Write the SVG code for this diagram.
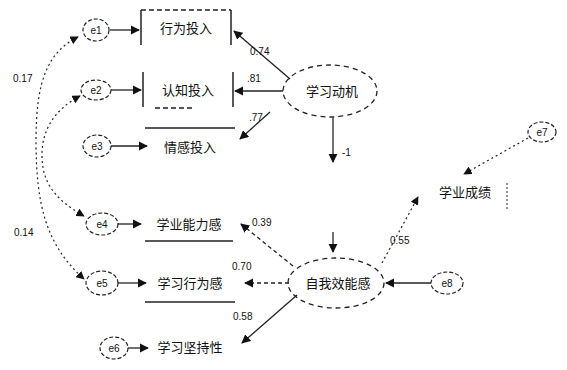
<svg xmlns="http://www.w3.org/2000/svg" width="567" height="370" viewBox="0 0 567 370">
<defs>
<marker id="ah" viewBox="0 0 10 10" refX="9" refY="5" markerWidth="7" markerHeight="7" orient="auto-start-reverse"><path d="M0,0 L10,5 L0,10 z" fill="#111"/></marker>
<style>
.t{font-family:"Liberation Sans","Noto Sans CJK SC",sans-serif;font-size:13px;fill:#111}
.s{font-family:"Liberation Sans","Noto Sans CJK SC",sans-serif;font-size:10px;fill:#111}
.lat{fill:none;stroke:#222;stroke-width:1.3;stroke-dasharray:5,4}
.err{fill:none;stroke:#222;stroke-width:1.2;stroke-dasharray:4,2}
.box{fill:none;stroke:#222;stroke-width:1.5}
.c{fill:none;stroke:#222;stroke-width:1.3;marker-end:url(#ah)}
.d{fill:none;stroke:#222;stroke-width:1.2;stroke-dasharray:2,3;marker-end:url(#ah)}
.dd{fill:none;stroke:#222;stroke-width:1.2;stroke-dasharray:2,3;marker-end:url(#ah);marker-start:url(#ah)}
</style>
</defs>
<rect width="567" height="370" fill="#fff"/>
<g id="connectors">
<path class="dd" d="M78,37 C48,52 36,80 36,140 C36,205 46,245 84,279"/>
<path class="dd" d="M80,96 C54,110 42,130 42,155 C42,180 52,198 84,216"/>
<text class="s" x="13" y="82">0.17</text>
<text class="s" x="14" y="236">0.14</text>
<line class="c" x1="110" y1="30" x2="139" y2="30"/>
<line class="c" x1="111" y1="90" x2="141" y2="90"/>
<line class="c" x1="111" y1="146" x2="147" y2="146"/>
<line class="c" x1="118" y1="224" x2="141" y2="224"/>
<line class="c" x1="118" y1="283" x2="146" y2="283"/>
<line class="c" x1="128" y1="348" x2="148" y2="348"/>
<line class="c" x1="290" y1="79" x2="234" y2="31"/>
<text class="s" x="250" y="55">0.74</text>
<line class="c" x1="283" y1="91" x2="235" y2="91"/>
<text class="s" x="247" y="82">.81</text>
<line class="c" x1="270" y1="112" x2="240" y2="139"/>
<text class="s" x="249" y="121">.77</text>
<line class="c" x1="333" y1="117" x2="333" y2="162"/>
<text class="s" x="342" y="156">-1</text>
<line class="c" x1="333" y1="232" x2="333" y2="252"/>
<path class="c" d="M293,266 L241,224" stroke-dasharray="4,3"/>
<text class="s" x="252" y="226">0.39</text>
<path class="c" d="M289,283 L245,283" stroke-dasharray="4,3"/>
<text class="s" x="232" y="270">0.70</text>
<line class="c" x1="297" y1="295" x2="242" y2="343"/>
<text class="s" x="233" y="320">0.58</text>
<path class="d" d="M382,263 L418,197"/>
<text class="s" x="390" y="244">0.55</text>
<path class="d" d="M528,138 L464,174"/>
<line class="c" x1="431" y1="283" x2="386" y2="283"/>
</g>
<g id="F1"><ellipse class="lat" cx="330" cy="91" rx="47" ry="26"/><text class="t" x="332" y="96" text-anchor="middle">学习动机</text></g>
<g id="F2"><ellipse class="lat" cx="336" cy="283" rx="48" ry="25"/><text class="t" x="338" y="288" text-anchor="middle">自我效能感</text></g>
<g id="x1"><path class="box" d="M141,10 V45 M231,10 V45"/><path class="box" d="M141,10 H231" stroke-dasharray="5,3"/><text class="t" x="186" y="33" text-anchor="middle">行为投入</text></g>
<g id="x2"><path class="box" d="M143,72 V107 M233,72 V107"/><path class="box" d="M155,108 H195" stroke-dasharray="5,3" stroke-width="1"/><text class="t" x="188" y="95" text-anchor="middle">认知投入</text></g>
<g id="x3"><path class="box" d="M145,128 H235"/><text class="t" x="190" y="152" text-anchor="middle">情感投入</text></g>
<g id="x4"><path class="box" d="M145,241 H233"/><text class="t" x="189" y="229" text-anchor="middle">学业能力感</text></g>
<g id="x5"><path class="box" d="M145,302 H235" stroke-width="1.2"/><text class="t" x="190" y="288" text-anchor="middle">学习行为感</text></g>
<g id="x6"><text class="t" x="190" y="352" text-anchor="middle">学习坚持性</text></g>
<g id="y1"><text class="t" x="465" y="197" text-anchor="middle">学业成绩</text><line x1="507" y1="183" x2="507" y2="209" stroke="#222" stroke-dasharray="2,2"/></g>
<g id="e1"><ellipse class="err" cx="96" cy="30" rx="13" ry="11"/><text class="s" x="96" y="34" text-anchor="middle">e1</text></g>
<g id="e2"><ellipse class="err" cx="96" cy="90" rx="15" ry="10"/><text class="s" x="96" y="94" text-anchor="middle">e2</text></g>
<g id="e3"><ellipse class="err" cx="97" cy="146" rx="14" ry="11"/><text class="s" x="97" y="150" text-anchor="middle">e3</text></g>
<g id="e4"><ellipse class="err" cx="102" cy="224" rx="16" ry="11"/><text class="s" x="102" y="228" text-anchor="middle">e4</text></g>
<g id="e5"><ellipse class="err" cx="102" cy="283" rx="16" ry="12"/><text class="s" x="102" y="287" text-anchor="middle">e5</text></g>
<g id="e6"><ellipse class="err" cx="114" cy="348" rx="14" ry="11"/><text class="s" x="114" y="352" text-anchor="middle">e6</text></g>
<g id="e7"><ellipse class="err" cx="542" cy="132" rx="14" ry="10"/><text class="s" x="542" y="136" text-anchor="middle">e7</text></g>
<g id="e8"><ellipse class="err" cx="447" cy="283" rx="16" ry="11"/><text class="s" x="447" y="287" text-anchor="middle">e8</text></g>
</svg>
